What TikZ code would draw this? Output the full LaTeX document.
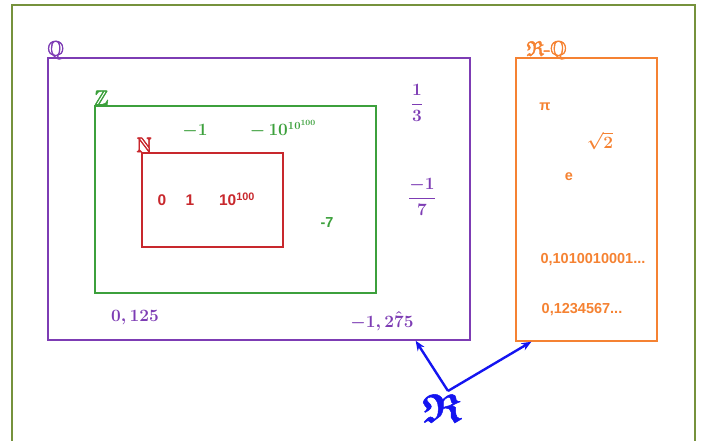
\documentclass[tikz,border=0pt]{standalone}
\usepackage{amsmath}
\usepackage{amssymb}
\usepackage{fontspec}
\setsansfont{Liberation Sans}
\usetikzlibrary{arrows.meta,positioning,calc}
\definecolor{framegreen}{RGB}{118,146,60}
\definecolor{qpurple}{RGB}{125,60,180}
\definecolor{zgreen}{RGB}{60,160,60}
\definecolor{nred}{RGB}{200,40,45}
\definecolor{iorange}{RGB}{245,130,50}
\definecolor{realblue}{RGB}{20,20,240}
\newcommand{\thicktext}[1]{\special{pdf:literal direct 2 Tr 0.5 w}#1\special{pdf:literal direct 0 Tr}}
\tikzset{
  setbox/.style={rectangle,draw=#1,line width=1.4pt,inner sep=0pt},
  setname/.style={text=#1,inner sep=0pt,font=\fontsize{21}{21}\selectfont},
  num/.style={text=#1,inner sep=1pt,font=\boldmath\fontsize{16}{18}\selectfont},
  frac/.style={text=#1,inner sep=1pt,font=\boldmath\fontsize{17}{19}\selectfont},
  snum/.style={text=#1,inner sep=1pt,font=\sffamily\bfseries\fontsize{14.5}{16}\selectfont},
  arr/.style={-{Stealth[length=10pt,width=8pt]},line width=2.4pt,color=realblue}
}

\begin{document}
\begin{tikzpicture}[x=1pt,y=-1pt]
    \useasboundingbox (0,0) rectangle (702,441);
    \draw[framegreen,line width=2pt] (12,5) rectangle (695,460);

    % the sets
    \node[setbox=qpurple,minimum width=422pt,minimum height=282pt] (qbox) at (259,199) {};
    \node[setbox=zgreen,minimum width=281pt,minimum height=187pt] (zbox) at (235.5,199.5) {};
    \node[setbox=nred,minimum width=141pt,minimum height=94pt] (nbox) at (212.5,200) {};
    \node[setbox=iorange,minimum width=141pt,minimum height=283pt] (obox) at (586.5,199.5) {};

    \node[setname=qpurple,anchor=south west,yshift=-2pt] (qname) at (qbox.north west) {\thicktext{$\mathbb{Q}$}};
    \node[setname=zgreen,anchor=south west] (zname) at (zbox.north west) {\thicktext{$\mathbb{Z}$}};
    \node[setname=nred,anchor=south west,xshift=-5pt] (nname) at (nbox.north west) {\thicktext{$\mathbb{N}$}};
    \node[setname=iorange,anchor=south west,xshift=11pt,yshift=-2pt] (oname) at (obox.north west) {\thicktext{$\mathfrak{R}$-$\mathbb{Q}$}};

    % naturals
    \node[snum=nred,font=\sffamily\bfseries\fontsize{15.5}{17}\selectfont,anchor=base] (zero) at (162,206) {0};
    \node[snum=nred,font=\sffamily\bfseries\fontsize{15.5}{17}\selectfont,anchor=base] (one) at (190,206) {1};
    \node[snum=nred,font=\sffamily\bfseries\fontsize{15.5}{17}\selectfont,anchor=base] (tenh) at (237,206) {10\textsuperscript{100}};

    % integers
    \node[num=zgreen] (mone) at (195,131) {$-1$};
    \node[num=zgreen] (mbig) at (283,129) {$-\,10^{10^{100}}$};
    \node[snum=zgreen] (mseven) at (327,223) {-7};

    % rationals
    \node[frac=qpurple] (third) at (417,103) {$\dfrac{1}{3}$};
    \node[frac=qpurple] (mseventh) at (422,197) {$\dfrac{-1}{7}$};
    \node[num=qpurple] (dec) at (135,318) {$0,125$};
    \node[num=qpurple] (per) at (382,321) {$-1,2\hat{7}5$};

    % irrationals
    \node[snum=iorange] (pi) at (545,107) {π};
    \node[num=iorange] (sqtwo) at (600,141) {$\sqrt{2}$};
    \node[snum=iorange] (euler) at (569,177) {e};
    \node[snum=iorange] (zeroone) at (593,260) {0,1010010001...};
    \node[snum=iorange] (count) at (582,310) {0,1234567...};

    % reals
    \node[text=realblue,inner sep=0pt,font=\fontsize{40}{40}\selectfont] (re) at (442,408) {\thicktext{$\boldsymbol{\mathfrak{R}}$}};
    \draw[arr] ([xshift=6pt,yshift=3pt]re.north) -- ($(qbox.south west)!0.87!(qbox.south east)$);
    \draw[arr] ([xshift=6pt,yshift=3pt]re.north) -- ($(obox.south west)!0.113!(obox.south east)$);
\end{tikzpicture}
\end{document}
